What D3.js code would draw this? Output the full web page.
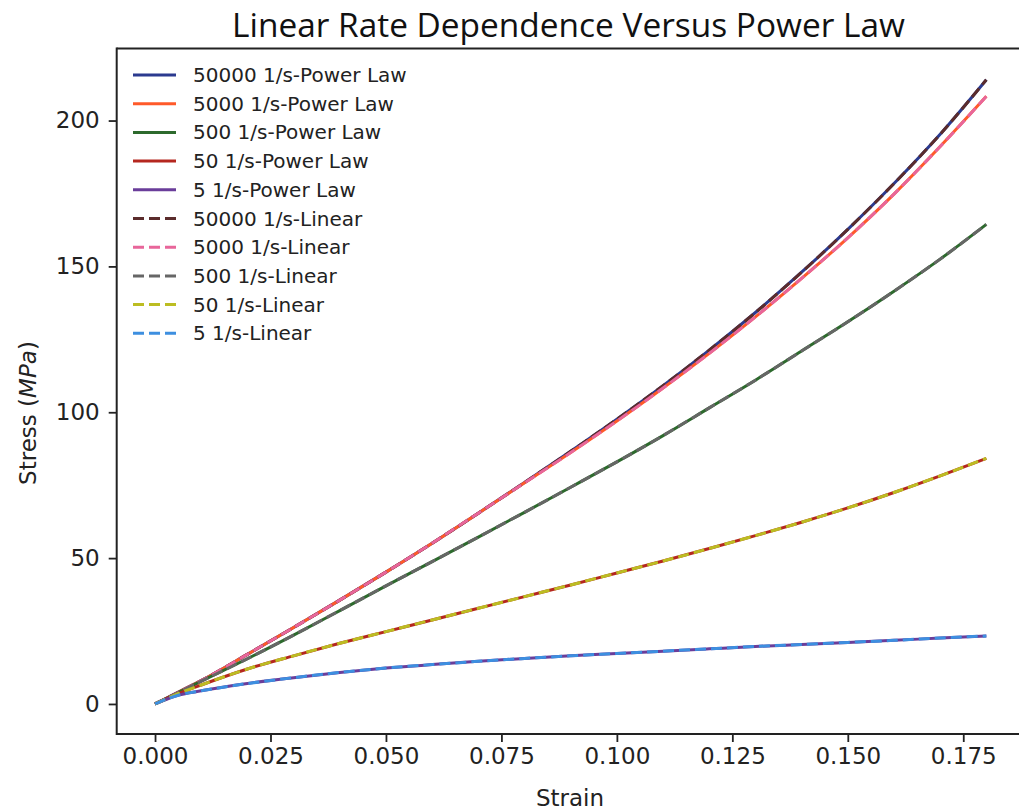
<!DOCTYPE html>
<html><head><meta charset="utf-8">
<script src="https://cdn.jsdelivr.net/npm/d3@7"></script>
<style>html,body{margin:0;padding:0;background:#fff;overflow:hidden;width:1019px;height:811px;} svg{display:block;}</style>
</head><body>
<script>
const strain = [0, 0.005, 0.01, 0.02, 0.03, 0.04, 0.05, 0.06, 0.07, 0.08, 0.09, 0.10, 0.11, 0.12, 0.13, 0.14, 0.15, 0.16, 0.17, 0.18];
const power50000 = [0, 4, 8, 17, 26.2, 35.6, 45.2, 55.1, 65.4, 75.9, 86.6, 97.6, 109.1, 121.3, 134.2, 148, 162.7, 178.4, 195.3, 214];
const power5000  = [0, 4, 8, 17, 26.2, 35.6, 45.2, 55.1, 65.4, 75.8, 86.2, 97, 108.3, 120.2, 132.7, 145.9, 159.8, 174.8, 191.1, 208.3];
const power500   = [0, 3.9, 7.8, 15.5, 23.6, 32, 40.5, 48.8, 57.2, 65.7, 74.3, 83, 92, 101.5, 111, 121, 131, 141.5, 152.5, 164.4];
const power50    = [0, 3.5, 6.5, 12, 16.5, 20.8, 24.8, 28.8, 32.8, 36.8, 40.8, 44.9, 49, 53.3, 57.7, 62.3, 67.2, 72.5, 78.2, 84.2];
const power5     = [0, 3, 4.5, 7, 9, 10.8, 12.3, 13.5, 14.6, 15.6, 16.5, 17.3, 18.1, 18.9, 19.7, 20.4, 21.1, 21.8, 22.6, 23.3];
const linear50000 = [0, 4, 8, 17, 26.2, 35.6, 45.2, 55.1, 65.4, 75.9, 86.6, 97.6, 109.1, 121.3, 134.2, 148, 162.7, 178.4, 195.3, 214];
const linear5000  = [0, 4, 8, 17, 26.2, 35.6, 45.2, 55.1, 65.4, 75.8, 86.2, 97, 108.3, 120.2, 132.7, 145.9, 159.8, 174.8, 191.1, 208.3];
const linear500   = [0, 3.9, 7.8, 15.5, 23.6, 32, 40.5, 48.8, 57.2, 65.7, 74.3, 83, 92, 101.5, 111, 121, 131, 141.5, 152.5, 164.4];
const linear50    = [0, 3.5, 6.5, 12, 16.5, 20.8, 24.8, 28.8, 32.8, 36.8, 40.8, 44.9, 49, 53.3, 57.7, 62.3, 67.2, 72.5, 78.2, 84.2];
const linear5     = [0, 3, 4.5, 7, 9, 10.8, 12.3, 13.5, 14.6, 15.6, 16.5, 17.3, 18.1, 18.9, 19.7, 20.4, 21.1, 21.8, 22.6, 23.3];
const seriesNames = ["50000 1/s-Power Law","5000 1/s-Power Law","500 1/s-Power Law","50 1/s-Power Law","5 1/s-Power Law",
                     "50000 1/s-Linear","5000 1/s-Linear","500 1/s-Linear","50 1/s-Linear","5 1/s-Linear"];
const seriesValues = [power50000, power5000, power500, power50, power5, linear50000, linear5000, linear500, linear50, linear5];
const seriesColors = ["#2b3a8f","#ff5a2a","#2d6a2d","#b5271f","#6a3d9a","#5b2c2c","#e8669a","#666666","#bcbd22","#3d8fe0"];
const seriesDashed = [false,false,false,false,false,true,true,true,true,true];
const xTicks = [0, 0.025, 0.05, 0.075, 0.1, 0.125, 0.15, 0.175];
const yTicks = [0, 50, 100, 150, 200];
const titleText = "Linear Rate Dependence Versus Power Law";
const xLabel = "Strain";

const W = 1019, H = 811;
const L = 116.7, R = 1023.3, T = 48.5, B = 734;
const svg = d3.select("body").append("svg").attr("width", W).attr("height", H)
  .attr("viewBox", `0 0 ${W} ${H}`).style("overflow", "hidden");
const x = d3.scaleLinear().domain([-0.0083, 0.188]).range([L, R]);
const y = d3.scaleLinear().domain([-10.3, 224.7]).range([B, T]);

const line = d3.line().x(d => x(d[0])).y(d => y(d[1])).curve(d3.curveMonotoneX);
const plot = svg.append("g");
seriesValues.forEach((vals, i) => {
  plot.append("path")
    .datum(strain.map((s, j) => [s, vals[j]]))
    .attr("d", line)
    .attr("fill", "none")
    .attr("stroke", seriesColors[i])
    .attr("stroke-width", 3)
    .attr("stroke-dasharray", seriesDashed[i] ? "11,5" : null);
});

// axes
const fontTick = "'DejaVu Sans', sans-serif";
const xAxis = svg.append("g").attr("transform", `translate(0,${B})`)
  .call(d3.axisBottom(x).tickValues(xTicks).tickFormat(d3.format(".3f")).tickSize(8).tickPadding(6).tickSizeOuter(0));
const yAxis = svg.append("g").attr("transform", `translate(${L},0)`)
  .call(d3.axisLeft(y).tickValues(yTicks).tickFormat(d3.format("d")).tickSize(8).tickPadding(9).tickSizeOuter(0));
[xAxis, yAxis].forEach(a => {
  a.select(".domain").remove();
  a.selectAll(".tick line").attr("stroke", "#222").attr("stroke-width", 1.8);
  a.selectAll(".tick text").attr("font-family", fontTick).attr("font-size", 23).attr("fill", "#222");
});
// spines (right spine lies outside the visible area)
const sp = svg.append("g").attr("stroke", "#222").attr("stroke-width", 2);
sp.append("line").attr("x1", L).attr("x2", L).attr("y1", T - 1).attr("y2", B + 1);
sp.append("line").attr("x1", L).attr("x2", W).attr("y1", T).attr("y2", T);
sp.append("line").attr("x1", L).attr("x2", W).attr("y1", B).attr("y2", B);

// title
svg.append("text").attr("x", 568.5).attr("y", 37).attr("text-anchor", "middle")
  .attr("font-family", "'Open Sans', 'Noto Sans', sans-serif").attr("font-size", 33).attr("fill", "#111")
  .attr("textLength", 673).attr("lengthAdjust", "spacingAndGlyphs").text(titleText);

// axis labels
svg.append("text").attr("x", 570).attr("y", 806).attr("text-anchor", "middle")
  .attr("font-family", fontTick).attr("font-size", 23).attr("fill", "#222").text(xLabel);
const yl = svg.append("text").attr("transform", "translate(36,413) rotate(-90)").attr("text-anchor", "middle")
  .attr("font-family", fontTick).attr("font-size", 23).attr("fill", "#222");
yl.append("tspan").text("Stress (");
yl.append("tspan").attr("font-style", "italic").text("MPa");
yl.append("tspan").text(")");

// legend
const leg = svg.append("g");
seriesNames.forEach((name, i) => {
  const ry = 75 + i * 28.7;
  leg.append("line").attr("x1", 133).attr("x2", 176).attr("y1", ry).attr("y2", ry)
    .attr("stroke", seriesColors[i]).attr("stroke-width", 3)
    .attr("stroke-dasharray", seriesDashed[i] ? "11,5" : null);
  leg.append("text").attr("x", 193).attr("y", ry + 7).attr("font-family", fontTick)
    .attr("font-size", 20).attr("fill", "#222").text(name);
});
// mask the right margin strip inside the axes
svg.append("rect").attr("x", 1000).attr("y", T + 1.5).attr("width", 19).attr("height", B - T - 3).attr("fill", "#fff");
</script>
</body></html>
